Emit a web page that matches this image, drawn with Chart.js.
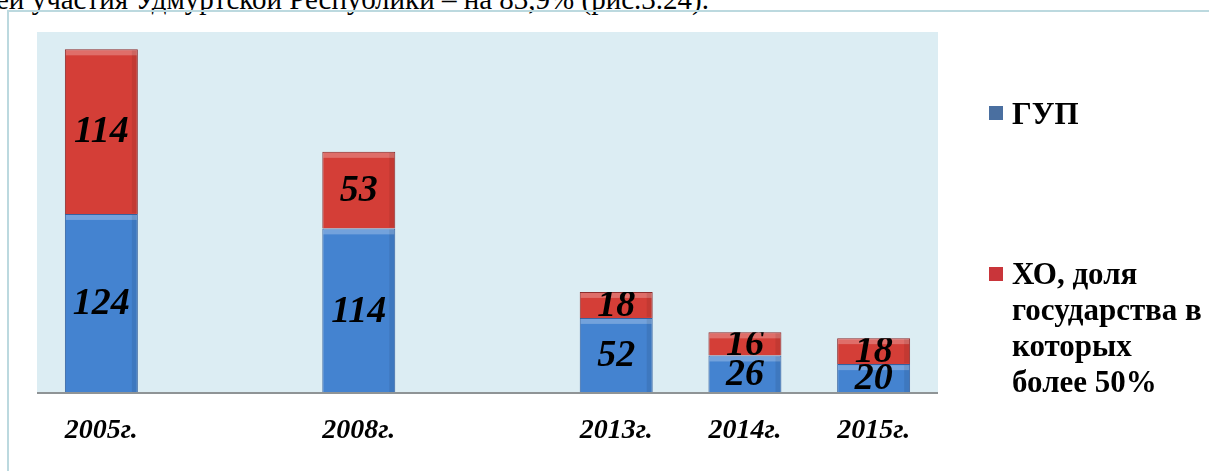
<!DOCTYPE html>
<html lang="ru">
<head>
    <meta charset="UTF-8">
    <script src="https://cdn.jsdelivr.net/npm/chart.js"></script>
    <title>ГУП и ХО</title>
    <style>
        body { margin: 0; background: #fff; }
        #wrap { position: relative; width: 1209px; height: 471px; overflow: hidden; }
        #topText {
            position: absolute; left: -4px; top: -16px; white-space: nowrap;
            font: 29px/30px "Liberation Serif", serif; color: #000;
        }
        #frame {
            position: absolute; left: 7px; top: 10px; right: -2px; bottom: -2px;
            border-top: 2px solid #bcd9df; border-left: 2px solid #bcd9df;
        }
        #chart { position: absolute; left: 0; top: 0; }
        .leg { position: absolute; font: bold 31px/36px "Liberation Serif", serif; color: #000; }
        .leg i { position: absolute; width: 14px; height: 14px; left: -23px; }
    </style>
</head>
<body>
<div id="wrap">
    <div id="topText">ей участия Удмуртской Республики – на 83,9% (рис.3.24).</div>
    <div id="frame"></div>
    <canvas id="chart" width="1209" height="471"></canvas>
    <div class="leg" style="left:1012px; top:96px;"><i style="top:10px; background:#4a6fa0;"></i>ГУП</div>
    <div class="leg" style="left:1012px; top:256px;"><i style="top:11px; background:#c9353a;"></i>ХО, доля<br>государства в<br>которых<br>более 50%</div>
</div>

<script>
    // годы (пустые позиции - промежутки между 2005, 2008 и 2013)
    const years = ['2005г.', '', '2008г.', '', '2013г.', '2014г.', '2015г.'];
    const gup = [124, null, 114, null, 52, 26, 20];
    const kho = [114, null, 53, null, 18, 16, 18];
    const seriesNames = ['ГУП', 'ХО, доля государства в которых более 50%'];

    // фон области графика, блики, линия оси и подписи
    const areaBg = {
        id: 'areaBg',
        beforeDraw(chart) {
            const { ctx, chartArea: a } = chart;
            ctx.save();
            ctx.fillStyle = '#dcedf3';
            ctx.fillRect(a.left, a.top, a.right - a.left, a.bottom - a.top);
            ctx.restore();
        },
        afterDatasetsDraw(chart) {
            const { ctx, chartArea: a } = chart;
            ctx.save();
            chart.data.datasets.forEach((ds, i) => {
                chart.getDatasetMeta(i).data.forEach((bar, j) => {
                    if (ds.data[j] == null) return;
                    const w = bar.width, top = Math.min(bar.y, bar.base);
                    ctx.fillStyle = 'rgba(255,255,255,0.25)';
                    ctx.fillRect(bar.x - w / 2 + 1, top + 1, w - 2, 5);
                    ctx.fillStyle = 'rgba(0,0,0,0.08)';
                    ctx.fillRect(bar.x + w / 2 - 6, top + 1, 5, Math.abs(bar.base - bar.y) - 2);
                });
            });
            ctx.strokeStyle = '#8f9496';
            ctx.lineWidth = 2;
            ctx.beginPath();
            ctx.moveTo(a.left, a.bottom);
            ctx.lineTo(a.right, a.bottom);
            ctx.stroke();

            ctx.font = 'italic bold 38px "Liberation Serif", serif';
            ctx.fillStyle = '#000';
            ctx.textAlign = 'center';
            ctx.textBaseline = 'middle';
            chart.data.datasets.forEach((ds, i) => {
                chart.getDatasetMeta(i).data.forEach((bar, j) => {
                    const v = ds.data[j];
                    if (v == null) return;
                    const top = Math.min(bar.y, bar.base), h = Math.abs(bar.base - bar.y);
                    ctx.save();
                    ctx.beginPath();
                    ctx.rect(bar.x - bar.width / 2, top, bar.width, h);
                    ctx.clip();
                    ctx.fillText(String(v), bar.x, top + h / 2 + 1);
                    ctx.restore();
                });
            });
            ctx.restore();
        }
    };

    const ctx = document.getElementById('chart').getContext('2d');
    new Chart(ctx, {
        type: 'bar',
        data: {
            labels: years,
            datasets: [
                { label: seriesNames[0], data: gup, backgroundColor: '#4483d0', borderColor: '#34609e', borderWidth: 1 },
                { label: seriesNames[1], data: kho, backgroundColor: '#d43e37', borderColor: '#8c2a2a', borderWidth: 1 }
            ]
        },
        options: {
            responsive: false,
            animation: false,
            barPercentage: 0.567,
            categoryPercentage: 1,
            layout: { padding: { left: 37, right: 271, top: 32, bottom: 0 } },
            plugins: { legend: { display: false }, tooltip: { enabled: false } },
            scales: {
                x: {
                    stacked: true,
                    grid: { display: false },
                    border: { display: false },
                    afterFit(scale) { scale.height = 78; },
                    ticks: {
                        color: '#000',
                        padding: 13,
                        maxRotation: 0,
                        autoSkip: false,
                        font: { family: '"Liberation Serif", serif', size: 28, style: 'italic', weight: 'bold' }
                    }
                },
                y: { stacked: true, display: false, min: 0, max: 250 }
            }
        },
        plugins: [areaBg]
    });
</script>
</body>
</html>
